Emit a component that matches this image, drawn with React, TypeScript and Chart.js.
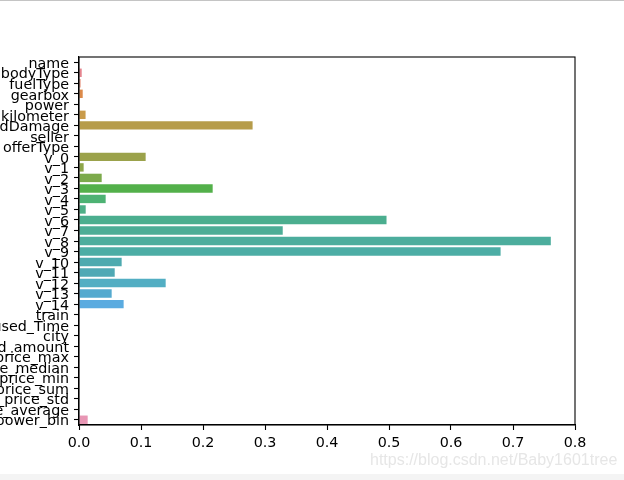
import React, { useEffect, useRef } from "react";
import { Chart, registerables } from "chart.js";

Chart.register(...registerables);

const features = [
  "name", "bodyType", "fuelType", "gearbox", "power", "kilometer", "notRepairedDamage",
  "seller", "offerType", "v_0", "v_1", "v_2", "v_3", "v_4", "v_5", "v_6", "v_7", "v_8",
  "v_9", "v_10", "v_11", "v_12", "v_13", "v_14", "train", "used_Time", "city",
  "brand_amount", "brand_price_max", "brand_price_median", "brand_price_min",
  "brand_price_sum", "brand_price_std", "brand_price_average", "power_bin",
];

const importance = [
  0, 0.0044, 0.0025, 0.006, 0, 0.0106, 0.28,
  0, 0, 0.1075, 0.0075, 0.0366, 0.2156, 0.043, 0.0108, 0.496, 0.3286, 0.761,
  0.68, 0.0688, 0.0576, 0.1398, 0.0527, 0.072, 0, 0, 0,
  0, 0, 0, 0,
  0, 0, 0, 0.014,
];

const barColors = [
  "#e8849a", "#e5858f", "#e4866f", "#dc8a4a", "#d4924a", "#c99b4a", "#b69c4a",
  "#a89f4a", "#a0a04a", "#9ba24b", "#8ea64a", "#7caa4b", "#53b04a", "#4db273", "#4daf87",
  "#4bae8f", "#4cad96", "#4cad9d", "#4cada5", "#4daaaf", "#4fa9b5", "#52aec3", "#55aacf",
  "#5aabe0", "#74a3e6", "#8f9fe6", "#a79ae6", "#bb94e6", "#cc8ee4", "#da8bdb",
  "#e08ad0", "#e68cc6", "#e88fbe", "#e892b8", "#e896b4",
];

const xTicks = [0, 0.1, 0.2, 0.3, 0.4, 0.5, 0.6, 0.7, 0.8];

const boxPlugin = {
  id: "box",
  afterDraw(chart: any) {
    const { ctx, chartArea } = chart;
    ctx.save();
    ctx.strokeStyle = "#000";
    ctx.lineWidth = 1.1;
    ctx.strokeRect(chartArea.left, chartArea.top, chartArea.right - chartArea.left, chartArea.bottom - chartArea.top);
    ctx.restore();
  },
};

export default function App() {
  const ref = useRef<HTMLCanvasElement | null>(null);
  useEffect(() => {
    if (!ref.current) return;
    const font = { family: "'DejaVu Sans', sans-serif", size: 14.3 };
    const chart = new Chart(ref.current, {
      type: "bar",
      data: {
        labels: features,
        datasets: [
          {
            data: importance,
            backgroundColor: barColors,
            borderWidth: 0,
            categoryPercentage: 0.8,
            barPercentage: 1,
          },
        ],
      },
      plugins: [boxPlugin],
      options: {
        indexAxis: "y",
        animation: false,
        responsive: false,
        maintainAspectRatio: false,
        layout: { padding: { left: 0, top: 57, right: 49, bottom: 0 } },
        plugins: { legend: { display: false }, tooltip: { enabled: false } },
        scales: {
          x: {
            type: "linear",
            min: 0,
            max: 0.8,
            afterFit(scale: any) {
              scale.height = 55;
            },
            afterBuildTicks(scale: any) {
              scale.ticks = xTicks.map((v) => ({ value: v }));
            },
            ticks: {
              color: "#000",
              font,
              padding: 5,
              callback: (v: any) => Number(v).toFixed(1),
              maxRotation: 0,
              autoSkip: false,
            },
            grid: {
              drawOnChartArea: false,
              tickLength: 5,
              color: "#000",
              tickWidth: 1.1,
            },
            border: { color: "#000", width: 1.1 },
          },
          y: {
            type: "category",
            afterFit(scale: any) {
              scale.width = 79;
            },
            ticks: {
              color: "#000",
              font,
              padding: 5,
              labelOffset: 2,
              autoSkip: false,
            },
            grid: {
              drawOnChartArea: false,
              offset: false,
              tickLength: 5,
              color: "#000",
              tickWidth: 1.1,
            },
            border: { color: "#000", width: 1.1 },
          },
        },
      },
    });
    return () => chart.destroy();
  }, []);

  return (
    <div style={{ position: "fixed", left: 0, top: 0, width: 624, height: 480, background: "#fff", overflow: "hidden" }}>
      <canvas ref={ref} width={624} height={480} style={{ display: "block", width: 624, height: 480 }} />
      <div style={{ position: "absolute", left: 0, top: 0, width: 624, height: 1, background: "#c4c4c4" }} />
      <div style={{ position: "absolute", left: 0, top: 474, width: 624, height: 6, background: "#f4f4f4" }} />
      <div
        style={{
          position: "absolute",
          left: 370,
          top: 451,
          fontFamily: "'Liberation Sans', Arial, sans-serif",
          fontSize: 16,
          color: "#e6e6e6",
          whiteSpace: "nowrap",
        }}
      >
        https://blog.csdn.net/Baby1601tree
      </div>
    </div>
  );
}
